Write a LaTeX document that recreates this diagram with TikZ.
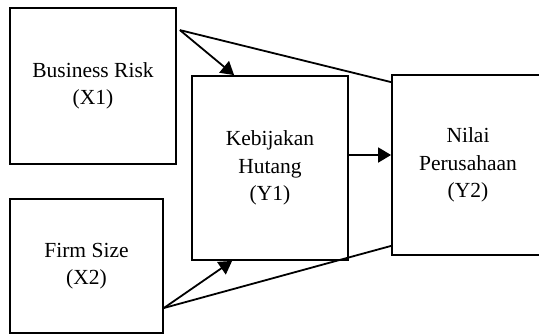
\documentclass[tikz,border=0pt]{standalone}
\usepackage{fontspec}
\setmainfont{Liberation Serif}
\usetikzlibrary{positioning, arrows.meta}

\begin{document}
\begin{tikzpicture}[x=1pt, y=-1pt,
        varbox/.style={draw, line width=1.8pt, rectangle, align=center, inner sep=0pt,
            font=\fontsize{21.5}{27.5}\selectfont},
        link/.style={line width=1.8pt},
        arr/.style={line width=1.8pt, -{Triangle[length=13pt, width=15pt]}}]
            \useasboundingbox (0,0) rectangle (539,335);
            \clip (0,0) rectangle (539,335);
            \node[varbox, minimum width=166pt, minimum height=156pt] (br) at (93,86) {Business Risk\\(X1)};
            \node[varbox, minimum width=153pt, minimum height=134pt] (fs) at (86.5,266) {Firm Size\\(X2)};
            \node[varbox, minimum width=156pt, minimum height=184pt] (kh) at (270,168) {Kebijakan\\Hutang\\(Y1)};
            \node[varbox, minimum width=152pt, minimum height=180pt] (np) at (468,165) {Nilai\\Perusahaan\\(Y2)};
            \coordinate (brout) at ([xshift=3pt, yshift=-23pt]br.north east);
            \coordinate (fsout) at ([yshift=-42pt]fs.east);
            \draw[arr] (brout) -- ([xshift=43pt]kh.north west);
            \draw[link] (brout) -- ([yshift=-8pt]np.north west);
            \draw[arr] (fsout) -- ([xshift=41pt]kh.south west);
            \draw[link] (fsout) -- ([yshift=10pt]np.south west);
            \draw[arr] ([yshift=13pt]kh.east) -- ([yshift=13pt]kh.east -| np.west);
        \end{tikzpicture}
\end{document}
